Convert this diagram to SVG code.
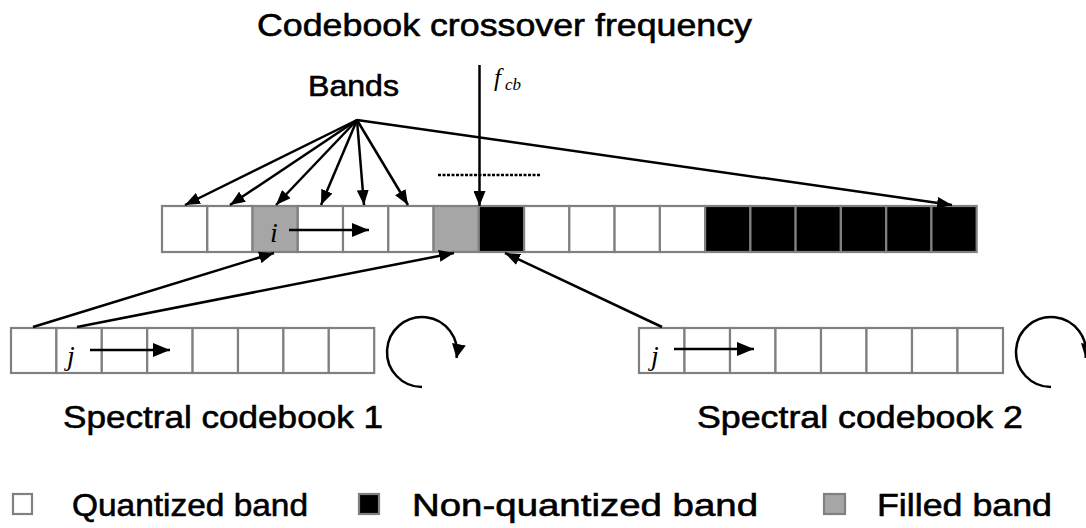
<svg xmlns="http://www.w3.org/2000/svg" width="1086" height="528" viewBox="0 0 1086 528">
<style>
.t{font-family:"Liberation Sans",Arial,sans-serif;fill:#000;stroke:#000;stroke-width:0.6}
.m{font-family:"Liberation Serif","Times New Roman",serif;font-style:italic;fill:#000}
.c{stroke:#808080;stroke-width:2.2}
.w{fill:#fff}
.g{fill:#a6a6a6}
.k{fill:#000}
.ln{stroke:#000;stroke-width:2.5;fill:none}
</style>
<defs>
<marker id="ah" markerUnits="userSpaceOnUse" markerWidth="15" markerHeight="12" refX="15" refY="6" orient="auto"><path d="M0,0 L15,6 L0,12 z" fill="#000"/></marker>
<marker id="ah2" markerUnits="userSpaceOnUse" markerWidth="17" markerHeight="14" refX="17" refY="7" orient="auto"><path d="M0,0 L17,7 L0,14 z" fill="#000"/></marker>
<marker id="ah3" markerUnits="userSpaceOnUse" markerWidth="14" markerHeight="14" refX="14" refY="7" orient="auto"><path d="M0,0 L14,7 L0,14 z" fill="#000"/></marker>
</defs>
<rect width="1086" height="528" fill="#fff"/>
<g id="title"><text class="t" x="257" y="36" font-size="32" textLength="495" lengthAdjust="spacingAndGlyphs">Codebook crossover frequency</text></g>
<g id="bands-label"><text class="t" x="308" y="96" font-size="29" textLength="91" lengthAdjust="spacingAndGlyphs">Bands</text></g>
<g id="fcb-label"><text class="m" x="494" y="86" font-size="25">f</text><text class="m" x="505" y="90" font-size="17">cb</text></g>
<g id="band-row">
<rect class="c w" x="162" y="206" width="45.26" height="46"/>
<rect class="c w" x="207.3" y="206" width="45.26" height="46"/>
<rect class="c g" x="252.5" y="206" width="45.26" height="46"/>
<rect class="c w" x="297.8" y="206" width="45.26" height="46"/>
<rect class="c w" x="343" y="206" width="45.26" height="46"/>
<rect class="c w" x="388.3" y="206" width="45.26" height="46"/>
<rect class="c g" x="433.6" y="206" width="45.26" height="46"/>
<rect class="c k" x="478.8" y="206" width="45.26" height="46"/>
<rect class="c w" x="524.1" y="206" width="45.26" height="46"/>
<rect class="c w" x="569.3" y="206" width="45.26" height="46"/>
<rect class="c w" x="614.6" y="206" width="45.26" height="46"/>
<rect class="c w" x="659.9" y="206" width="45.26" height="46"/>
<rect class="c k" x="705.1" y="206" width="45.26" height="46"/>
<rect class="c k" x="750.4" y="206" width="45.26" height="46"/>
<rect class="c k" x="795.6" y="206" width="45.26" height="46"/>
<rect class="c k" x="840.9" y="206" width="45.26" height="46"/>
<rect class="c k" x="886.2" y="206" width="45.26" height="46"/>
<rect class="c k" x="931.4" y="206" width="45.26" height="46"/>
<text class="m" x="270" y="242" font-size="28">i</text>
<line class="ln" x1="289" y1="230" x2="369" y2="230" marker-end="url(#ah2)"/>
</g>
<g id="codebook1">
<rect class="c w" x="11" y="328" width="45.4" height="45"/>
<rect class="c w" x="56.4" y="328" width="45.4" height="45"/>
<rect class="c w" x="101.8" y="328" width="45.4" height="45"/>
<rect class="c w" x="147.2" y="328" width="45.4" height="45"/>
<rect class="c w" x="192.6" y="328" width="45.4" height="45"/>
<rect class="c w" x="238" y="328" width="45.4" height="45"/>
<rect class="c w" x="283.4" y="328" width="45.4" height="45"/>
<rect class="c w" x="328.8" y="328" width="45.4" height="45"/>
<text class="m" x="67" y="365" font-size="28">j</text>
<line class="ln" x1="90" y1="350" x2="170" y2="350" marker-end="url(#ah2)"/>
<path class="ln" d="M422,387 A35,35 0 1 1 456.5,358" stroke-width="2.2" marker-end="url(#ah3)"/>
<text class="t" x="63" y="428" font-size="32" textLength="320" lengthAdjust="spacingAndGlyphs">Spectral codebook 1</text>
</g>
<g id="codebook2">
<rect class="c w" x="639" y="328" width="45.5" height="45"/>
<rect class="c w" x="684.5" y="328" width="45.5" height="45"/>
<rect class="c w" x="730" y="328" width="45.5" height="45"/>
<rect class="c w" x="775.5" y="328" width="45.5" height="45"/>
<rect class="c w" x="821" y="328" width="45.5" height="45"/>
<rect class="c w" x="866.5" y="328" width="45.5" height="45"/>
<rect class="c w" x="912" y="328" width="45.5" height="45"/>
<rect class="c w" x="957.5" y="328" width="45.5" height="45"/>
<text class="m" x="651" y="365" font-size="28">j</text>
<line class="ln" x1="674" y1="349" x2="754" y2="349" marker-end="url(#ah2)"/>
<path class="ln" d="M1051,387 A35,35 0 1 1 1085.5,358" stroke-width="2.2" marker-end="url(#ah3)"/>
<text class="t" x="697" y="428" font-size="32" textLength="326" lengthAdjust="spacingAndGlyphs">Spectral codebook 2</text>
</g>
<g id="connectors">
<line class="ln" x1="357" y1="120" x2="185" y2="205" marker-end="url(#ah)"/>
<line class="ln" x1="357" y1="120" x2="230" y2="205" marker-end="url(#ah)"/>
<line class="ln" x1="357" y1="120" x2="276" y2="205" marker-end="url(#ah)"/>
<line class="ln" x1="357" y1="120" x2="321" y2="205" marker-end="url(#ah)"/>
<line class="ln" x1="357" y1="120" x2="364" y2="205" marker-end="url(#ah)"/>
<line class="ln" x1="357" y1="120" x2="408" y2="205" marker-end="url(#ah)"/>
<line class="ln" x1="357" y1="120" x2="952" y2="205" marker-end="url(#ah)"/>
<line class="ln" x1="479.5" y1="65" x2="479.5" y2="206" marker-end="url(#ah)"/>
<line x1="438" y1="175" x2="540" y2="175" stroke="#000" stroke-width="2.5" stroke-dasharray="3,1.5"/>
<line class="ln" x1="33" y1="327" x2="274" y2="253" marker-end="url(#ah)"/>
<line class="ln" x1="77" y1="327" x2="454" y2="253" marker-end="url(#ah)"/>
<line class="ln" x1="662" y1="327" x2="505" y2="253" marker-end="url(#ah)"/>
</g>
<g id="legend">
<rect class="c w" x="13" y="494" width="19" height="20"/>
<text class="t" x="72" y="516" font-size="32" textLength="236" lengthAdjust="spacingAndGlyphs">Quantized band</text>
<rect class="c k" x="359" y="494" width="20" height="20"/>
<text class="t" x="412" y="516" font-size="32" textLength="346" lengthAdjust="spacingAndGlyphs">Non-quantized band</text>
<rect class="c g" x="824" y="494" width="21" height="20"/>
<text class="t" x="877" y="516" font-size="32" textLength="175" lengthAdjust="spacingAndGlyphs">Filled band</text>
</g>
</svg>
